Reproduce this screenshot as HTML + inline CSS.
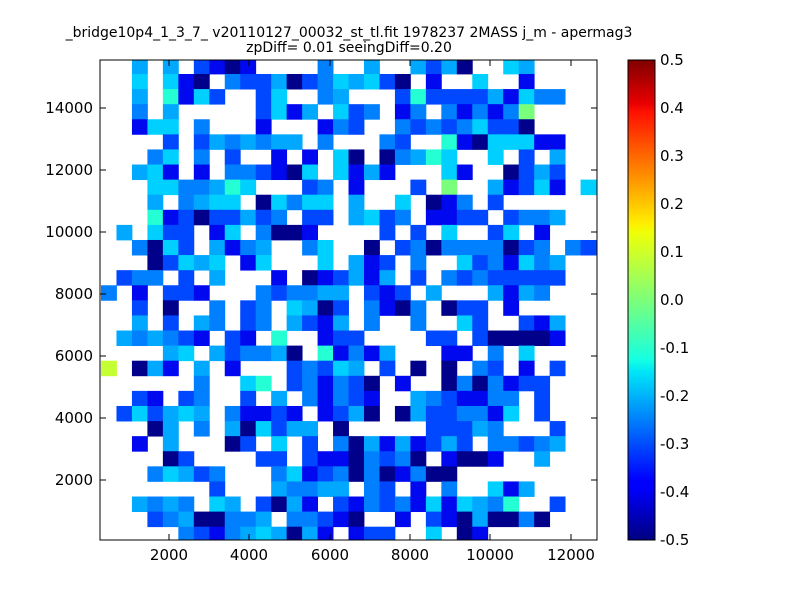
<!DOCTYPE html>
<html><head><meta charset="utf-8"><style>
body{margin:0;background:#fff;}
svg{display:block;font-family:"DejaVu Sans","Liberation Sans",sans-serif;}
</style></head><body>
<svg id="s" width="800" height="600" xmlns="http://www.w3.org/2000/svg">
<defs>
<clipPath id="cp"><rect x="100" y="60" width="497" height="480"/></clipPath>
<linearGradient id="jet" x1="0" y1="1" x2="0" y2="0">
<stop offset="0" stop-color="#000080"/><stop offset="0.11" stop-color="#0000ff"/><stop offset="0.125" stop-color="#0000ff"/>
<stop offset="0.35" stop-color="#00e5f8"/><stop offset="0.375" stop-color="#14ffe2"/><stop offset="0.5" stop-color="#7dff7a"/>
<stop offset="0.64" stop-color="#efff08"/><stop offset="0.66" stop-color="#ffed00"/><stop offset="0.89" stop-color="#ff1200"/>
<stop offset="0.91" stop-color="#e80000"/><stop offset="1" stop-color="#800000"/>
</linearGradient>
</defs>
<rect width="800" height="600" fill="#fff"/>
<text x="349" y="37" font-size="14" text-anchor="middle">_bridge10p4_1_3_7_ v20110127_00032_st_tl.fit 1978237 2MASS j_m - apermag3</text>
<text x="349" y="52" font-size="14" text-anchor="middle">zpDiff= 0.01 seeingDiff=0.20</text>
<g id="cells" clip-path="url(#cp)"></g>
<rect x="100" y="60" width="497" height="480" fill="none" stroke="#000" stroke-width="1"/>
<g id="ticks" stroke="#000" stroke-width="1"></g>
<g font-size="15" id="labels"></g>
<rect x="628" y="60" width="27" height="480" fill="url(#jet)" stroke="#000"/>
</svg>
<script>
var rows=[
"..L.L.DBNB....M..L..LDLN..CL....",
"..C.CBN.MDDLNDMCLCDN.B..C..B....",
"..L.TBCD..DC..ML...DTDDDDLBCMM..",
"..M.L.....DCBL.CDM.BM.MBMBMG....",
"..BCC.M...B...BMD..MDMDMCDDN....",
"....D.DLMLMLL.M...MD..TBNCCCBB..",
"...MC.M.D..B.B.CN.NMLTC..C.D.L..",
"..LCB.B.MMDBNC.CBLB...CB..NDLD..",
"...CCMMLTC...DM.B...D.G..LBDCB.C",
"...L.MLCC.NCMCC.L..C.NBM.D......",
"...TBDNDDLDM.DD.LCDM.BBDD.DMML..",
".L.CDD.BC.MNNB....D.D.C..DC.B...",
"..MNCD.LBML..MC..N.DMNMMMMNDM.MD",
"...NDCLC.BC...C.LBD.M..CDMBCML..",
".DMM.D.L...B.NBDLBL.D.MDMDDDDD..",
"M.B.DDB...MDMMLL.DBD.L...LBLM...",
"..D.N..M.DM.CLND.MBNM.NDD.B.....",
"..L.D.LM.DM.LDBL.M..M..CD..DBL..",
".LMLMDB.DB.T..BDD....DD.DNNNNB..",
"....LC.LDMMLN.TBMBL...BB.M.C....",
"Y.NLB.L.B...DMDCL.D.N.N.MD.B.D..",
"......M..CT.DMBMDN.B..NMNMBDD...",
"..DB.DM..D.L.MBMDB..LMDBBMM.D...",
".DCDLCL.MBBDB.BDLN.NLDDMMBC.D...",
"...NL.M.LNCDLL.N.....DDDLM...D..",
"..B.L...ND.C.D.MNLBLBDLD.MMDML..",
"....ND....DD.DBBNMDMN.BNNB..L...",
"...MCLDM...MCBDMNMNBMNN.........",
".......D...LMMLL.MD.B.M..CBL....",
"..LMLM.CL.DNLB.DBMDMBCBCLMT..D..",
"...DMLNNMML.MMDBN..B.DBNLNNMN...",
".....MDBMLCLNLB.BDD..C.NB......."];
var col={N:"#00008a",B:"#0008f0",D:"#0048ff",M:"#0080ff",L:"#00a8ff",C:"#00d0ff",T:"#24ffd4",G:"#7aff7d",Y:"#c4ff34"};
var g=document.getElementById("cells"),h="";
for(var r=0;r<rows.length;r++)for(var c=0;c<32;c++){var ch=rows[r][c];if(col[ch])h+='<rect x="'+(101+15.47*c).toFixed(2)+'" y="'+(58.9+15.09*r).toFixed(2)+'" width="15.9" height="15.5" fill="'+col[ch]+'"/>';}
g.innerHTML=h;
var t="",l="";
var xs=[[169,"2000"],[249,"4000"],[330,"6000"],[410,"8000"],[490,"10000"],[571,"12000"]];
xs.forEach(function(a){t+='<line x1="'+a[0]+'" y1="540" x2="'+a[0]+'" y2="534"/><line x1="'+a[0]+'" y1="60" x2="'+a[0]+'" y2="66"/>';l+='<text x="'+a[0]+'" y="560" text-anchor="middle">'+a[1]+'</text>';});
var ys=[[108,"14000"],[170,"12000"],[232,"10000"],[294,"8000"],[356,"6000"],[418,"4000"],[480,"2000"]];
ys.forEach(function(a){t+='<line x1="100" y1="'+a[0]+'" x2="106" y2="'+a[0]+'"/><line x1="597" y1="'+a[0]+'" x2="591" y2="'+a[0]+'"/>';l+='<text x="93" y="'+(a[0]+5)+'" text-anchor="end">'+a[1]+'</text>';});
for(var i=0;i<=10;i++){var y=60+48*i,v=(0.5-0.1*i).toFixed(1);if(v=="-0.0")v="0.0";t+='<line x1="649" y1="'+y+'" x2="655" y2="'+y+'"/>';l+='<text x="660" y="'+(y+5)+'">'+v+'</text>';}
document.getElementById("ticks").innerHTML=t;document.getElementById("labels").innerHTML=l;
</script>
</body></html>
